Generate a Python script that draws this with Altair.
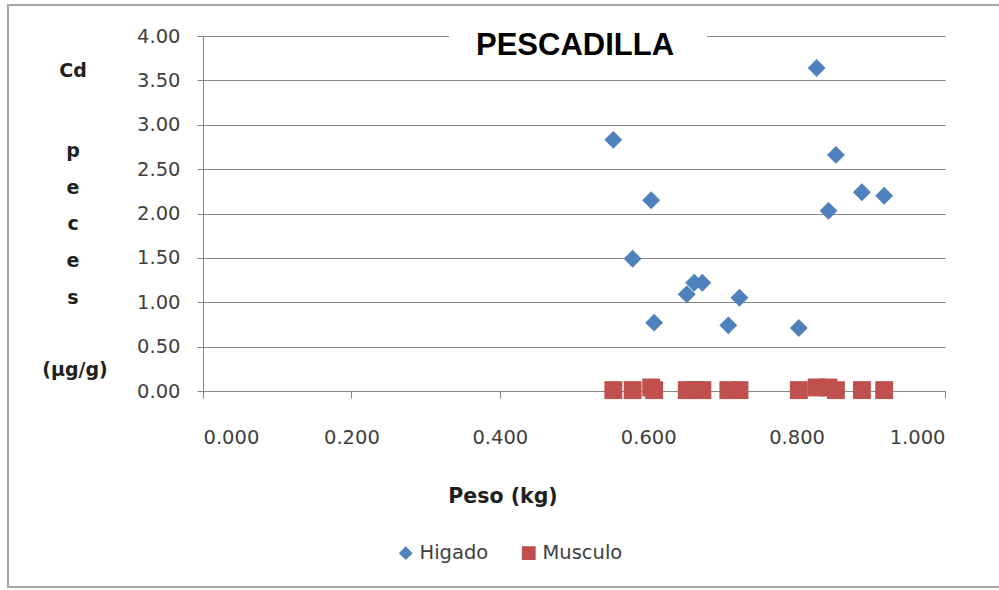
import altair as alt
import pandas as pd

# Cadmium in hake ("pescadilla") tissues versus fish weight
peso_kg = [0.553, 0.579, 0.604, 0.608, 0.652, 0.662, 0.673, 0.708,
           0.723, 0.803, 0.827, 0.843, 0.853, 0.888, 0.918]
higado_cd = [2.83, 1.49, 2.15, 0.77, 1.09, 1.22, 1.22, 0.74,
             1.05, 0.71, 3.64, 2.03, 2.66, 2.24, 2.20]
musculo_cd = [0.01, 0.01, 0.04, 0.01, 0.01, 0.01, 0.01, 0.01,
              0.01, 0.01, 0.04, 0.04, 0.01, 0.01, 0.01]

series_names = ["Higado", "Musculo"]
series_colors = ["#4F81BD", "#C0504D"]
series_shapes = ["diamond", "square"]

x_ticks = [0.0, 0.2, 0.4, 0.6, 0.8, 1.0]
y_ticks = [0.0, 0.5, 1.0, 1.5, 2.0, 2.5, 3.0, 3.5, 4.0]

chart_title = "PESCADILLA"
x_title = "Peso (kg)"
y_title_lines = ["Cd", "p", "e", "c", "e", "s", "(μg/g)"]

# long table built from the series lists
df = pd.concat([
    pd.DataFrame({"Peso": peso_kg, "Cd": higado_cd, "Serie": series_names[0]}),
    pd.DataFrame({"Peso": peso_kg, "Cd": musculo_cd, "Serie": series_names[1]}),
], ignore_index=True)

W, H = 742, 355
LEFT, TOP = 203, 36
GRID = "#868686"
LABEL = "#404040"
TEXT_FONT = "DejaVu Sans"

one = alt.Data(values=[{}])

# outer chart frame
frame = alt.Chart(one).mark_rect(
    fillOpacity=0, stroke="#a6a6a6", strokeWidth=2
).encode(
    x=alt.value(8 - LEFT), x2=alt.value(W + 120),
    y=alt.value(5 - TOP), y2=alt.value(587 - TOP),
)

# white box behind the title, interrupting the top gridline
title_box = alt.Chart(one).mark_rect(fill="white").encode(
    x=alt.value(449 - LEFT), x2=alt.value(707 - LEFT),
    y=alt.value(-20), y2=alt.value(26),
)

title_text = alt.Chart(one).mark_text(
    text=chart_title, font="Liberation Sans", fontSize=31, fontWeight="bold",
    align="center", baseline="alphabetic", color="#000000",
).encode(x=alt.value(575 - LEFT), y=alt.value(55 - TOP))

# stacked y-axis title
y_title_baselines = [77, 157, 194, 230, 267, 304, 376]
y_title_centers = [73, 73, 73, 73, 73, 73, 75]
y_title_layers = []
for line, base, cx in zip(y_title_lines, y_title_baselines, y_title_centers):
    y_title_layers.append(
        alt.Chart(one).mark_text(
            text=line, font=TEXT_FONT, fontSize=19, fontWeight="bold",
            align="center", baseline="alphabetic", color="#1f1f1f",
        ).encode(x=alt.value(cx - LEFT), y=alt.value(base - TOP))
    )

x_title_text = alt.Chart(one).mark_text(
    text=x_title, font=TEXT_FONT, fontSize=20.5, fontWeight="bold",
    align="center", baseline="alphabetic", color="#1f1f1f",
).encode(x=alt.value(503 - LEFT), y=alt.value(503 - TOP))

points = alt.Chart(df).mark_point(filled=True, size=320, opacity=1).encode(
    x=alt.X(
        "Peso:Q",
        scale=alt.Scale(domain=[0, 1], nice=False, zero=False),
        axis=alt.Axis(
            values=x_ticks, format=".3f", title=None, grid=False,
            domainColor=GRID, tickColor=GRID, tickSize=7,
            labelFont=TEXT_FONT, labelFontSize=19.5, labelColor=LABEL,
            labelPadding=30,
        ),
    ),
    y=alt.Y(
        "Cd:Q",
        scale=alt.Scale(domain=[0, 4], nice=False),
        axis=alt.Axis(
            values=y_ticks, format=".2f", title=None, grid=True,
            gridColor=GRID, gridWidth=1, domainColor=GRID, tickColor=GRID,
            tickSize=6, labelFont=TEXT_FONT, labelFontSize=19.5,
            labelColor=LABEL, labelPadding=17,
        ),
    ),
    color=alt.Color(
        "Serie:N",
        scale=alt.Scale(domain=series_names, range=series_colors),
        legend=alt.Legend(
            title=None, orient="none", direction="horizontal",
            legendX=396 - LEFT, legendY=543 - TOP, padding=0,
            symbolSize=190, symbolStrokeWidth=0, labelOffset=4,
            columnPadding=30, labelFont=TEXT_FONT, labelFontSize=19.5,
            labelColor=LABEL,
        ),
    ),
    shape=alt.Shape(
        "Serie:N",
        scale=alt.Scale(domain=series_names, range=series_shapes),
    ),
)

chart = alt.layer(
    frame, title_box, title_text, *y_title_layers, x_title_text, points
).properties(
    width=W, height=H,
    padding={"left": LEFT, "top": TOP, "right": 999 - LEFT - W,
             "bottom": 590 - TOP - H},
    autosize=alt.AutoSizeParams(type="none"),
    background="white",
).configure_view(strokeWidth=0)

chart.save("out.html", embed_options={"renderer": "svg", "actions": False})
